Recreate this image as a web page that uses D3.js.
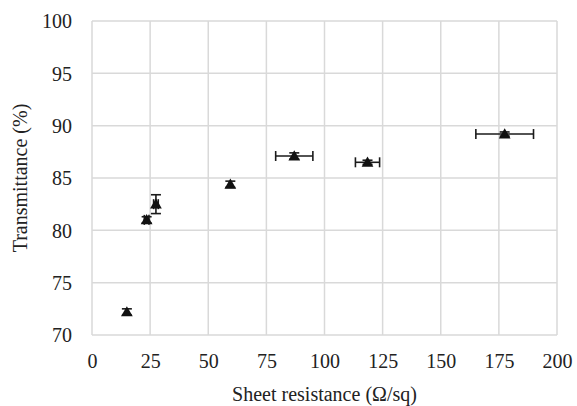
<!DOCTYPE html>
<html>
<head>
<meta charset="utf-8">
<script src="https://cdn.jsdelivr.net/npm/d3@7"></script>
<style>
  body { margin: 0; background: #fff; }
  text { font-family: "Liberation Serif", "Times New Roman", serif; fill: #222; }
</style>
</head>
<body>
<svg id="chart" width="577" height="406"></svg>
<script>
// data
const resistance = [15, 23.5, 27.5, 59.5, 87, 118.5, 177.5]
const resistanceErr = [0, 1, 1, 0, 8, 5.2, 12.4]
const transmittance = [72.2, 81.0, 82.5, 84.4, 87.1, 86.5, 89.2]
const transmittanceErr = [0.3, 0.3, 0.9, 0.3, 0.3, 0.2, 0.2]
const xTicks = [0, 25, 50, 75, 100, 125, 150, 175, 200]
const yTicks = [70, 75, 80, 85, 90, 95, 100]

const serif = "'Liberation Serif', 'Times New Roman', serif"
const svg = d3.select("#chart")
const margin = { left: 92, right: 20, top: 21, bottom: 71 }
const w = 577 - margin.left - margin.right
const h = 406 - margin.top - margin.bottom

const x = d3.scaleLinear().domain([0, 200]).range([0, w])
const y = d3.scaleLinear().domain([70, 100]).range([h, 0])

const g = svg.append("g").attr("transform", `translate(${margin.left},${margin.top})`)

// gridlines
g.selectAll(".vgrid").data(xTicks).enter().append("line")
  .attr("x1", d => x(d)).attr("x2", d => x(d))
  .attr("y1", 0).attr("y2", h)
  .attr("stroke", "#d9d9d9").attr("stroke-width", 1.5)
g.selectAll(".hgrid").data(yTicks).enter().append("line")
  .attr("x1", 0).attr("x2", w)
  .attr("y1", d => y(d)).attr("y2", d => y(d))
  .attr("stroke", "#d9d9d9").attr("stroke-width", 1.5)

// axes (labels only)
const xAxis = g.append("g").attr("transform", `translate(0,${h})`)
  .call(d3.axisBottom(x).tickValues(xTicks).tickSize(0).tickPadding(19))
const yAxis = g.append("g")
  .call(d3.axisLeft(y).tickValues(yTicks).tickSize(0).tickPadding(20))
;[xAxis, yAxis].forEach(a => {
  a.attr("font-family", serif).attr("font-size", 20)
  a.select(".domain").remove()
  a.selectAll("text").attr("fill", "#222")
})
yAxis.selectAll("text").attr("dy", "0.34em")

svg.append("text")
  .attr("x", margin.left + w / 2).attr("y", 401)
  .attr("text-anchor", "middle").attr("font-size", 20)
  .text("Sheet resistance (Ω/sq)")
svg.append("text")
  .attr("transform", `translate(27,${margin.top + h / 2}) rotate(-90)`)
  .attr("text-anchor", "middle").attr("font-size", 20)
  .text("Transmittance (%)")

const points = resistance.map((r, i) => ({
  x: r, xe: resistanceErr[i], y: transmittance[i], ye: transmittanceErr[i]
}))

const cap = 5
const eb = g.append("g").attr("stroke", "#1a1a1a").attr("stroke-width", 1.6)
points.forEach(p => {
  if (p.xe > 0) {
    eb.append("line").attr("x1", x(p.x - p.xe)).attr("x2", x(p.x + p.xe))
      .attr("y1", y(p.y)).attr("y2", y(p.y))
    ;[p.x - p.xe, p.x + p.xe].forEach(v => {
      eb.append("line").attr("x1", x(v)).attr("x2", x(v))
        .attr("y1", y(p.y) - cap).attr("y2", y(p.y) + cap)
    })
  }
  if (p.ye > 0) {
    eb.append("line").attr("x1", x(p.x)).attr("x2", x(p.x))
      .attr("y1", y(p.y - p.ye)).attr("y2", y(p.y + p.ye))
    ;[p.y - p.ye, p.y + p.ye].forEach(v => {
      eb.append("line").attr("x1", x(p.x) - cap).attr("x2", x(p.x) + cap)
        .attr("y1", y(v)).attr("y2", y(v))
    })
  }
})

g.selectAll(".pt").data(points).enter().append("path")
  .attr("d", d3.symbol().type(d3.symbolTriangle).size(60))
  .attr("transform", d => `translate(${x(d.x)},${y(d.y) + 1})`)
  .attr("fill", "#111")
</script>
</body>
</html>
